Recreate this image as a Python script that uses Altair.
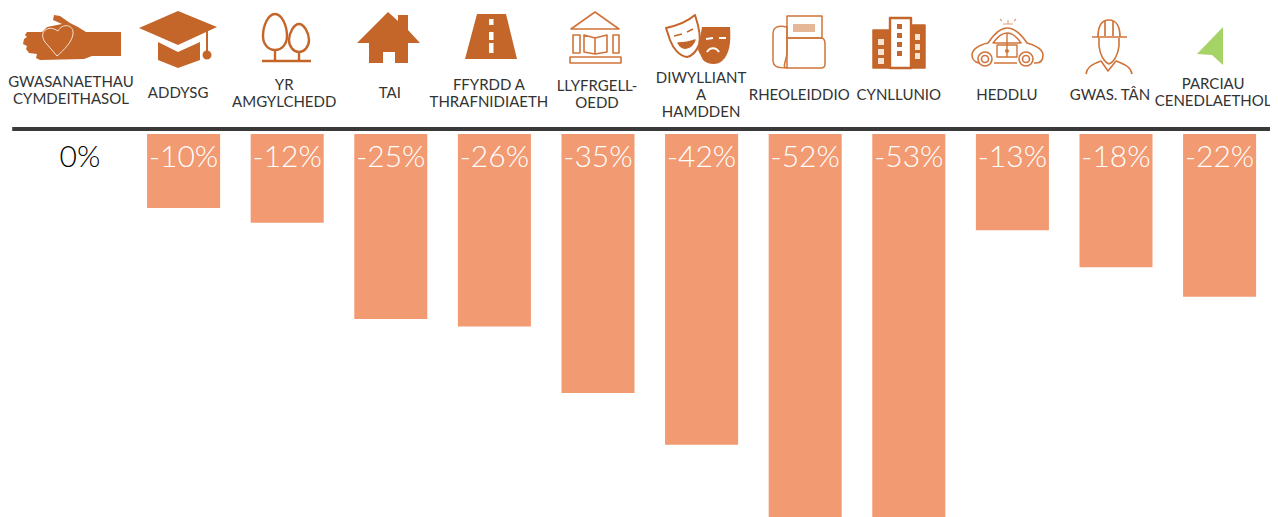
import re
import altair as alt
import pandas as pd

categories = ["social", "educ", "env", "housing", "roads", "lib", "culture", "reg", "plan", "police", "fire", "parks"]
labels = ["GWASANAETHAU\nCYMDEITHASOL", "ADDYSG", "YR\nAMGYLCHEDD", "TAI", "FFYRDD A\nTHRAFNIDIAETH",
          "LLYFRGELL-\nOEDD", "DIWYLLIANT\nA\nHAMDDEN", "RHEOLEIDDIO", "CYNLLUNIO", "HEDDLU", "GWAS. TÂN",
          "PARCIAU\nCENEDLAETHOL"]
values = [0, -10, -12, -25, -26, -35, -42, -52, -53, -13, -18, -22]

ORANGE = "#c4652a"
LINE = "#d0743a"
BAR = "#f29a72"
GREEN = "#a5d365"
FONT = "Lato"

df = pd.DataFrame({
    "cat": categories,
    "label": [s.split("\n") for s in labels],
    "v": values,
    "txt": [f"{v}%" for v in values],
})

STEP = 103.6
FIRST = 80.0
x_scale = alt.Scale(domain=categories, range=[0, 12 * STEP], paddingInner=0.295, paddingOuter=0.1475, round=False)
y_scale = alt.Scale(domain=[-51.76, 17.03], nice=False, zero=False)
x = alt.X("cat:N", scale=x_scale, axis=None, sort=categories)


def rel(path, cat):
    """Icon outlines are sketched around the column centre."""
    c = FIRST + categories.index(cat) * STEP
    return re.sub(r"(-?\d+\.?\d*),(-?\d+\.?\d*)",
                  lambda m: f"{float(m.group(1)) - c:.2f},{m.group(2)}", path)


def circ(cx, cy, r):
    return f"M{cx - r},{cy}A{r} {r} 0 1 0 {cx + r},{cy}A{r} {r} 0 1 0 {cx - r},{cy}Z"


def rect(x0, y0, x1, y1):
    return f"M{x0},{y0}L{x1},{y0}L{x1},{y1}L{x0},{y1}Z"


# (column, outline, fill, stroke, stroke width)
icons = [
    ("social", "M121,32L121,56L92,56L84,59L40,60L36,58L37,54L29,53L26,49L27,46L23,44L24,39L27,37L25,35L27,32L42,32L47,27L62,24L53,20L54,15L60,16L70,23L78,27L86,32Z", ORANGE, None, 0),
    ("social", "M57,56L45,42C38,32 48,24 58,31C62,23 74,24 73,34C72,42 64,50 57,56Z", ORANGE, "#f4e2d4", 1),
    ("educ", "M178,11L217,27L178,45L139,28Z", ORANGE, None, 0),
    ("educ", "M158,42L178,52L200,42L200,60L178,68L158,60Z", ORANGE, None, 0),
    ("educ", "M207,29L207,52", None, ORANGE, 2),
    ("educ", circ(207, 55, 4.5), ORANGE, None, 0),
    ("env", "M275,14C268,14 263,26 263,36C263,44 268,50 275,50C282,50 287,44 287,36C287,26 282,14 275,14ZM275,50L275,60", None, ORANGE, 2.4),
    ("env", "M299,24C294,24 289,33 289,40C289,47 294,52 299,52C304,52 309,47 309,40C309,33 304,24 299,24ZM299,52L299,60M262,61L311,61", None, ORANGE, 2.4),
    ("housing", "M388,12L398,21L398,15L408,15L408,30L420,43L408,43L408,63L395,63L395,52L383,52L383,63L369,63L369,43L357,43Z", ORANGE, None, 0),
    ("roads", "M477,14L506,14L517,59L465,59Z", ORANGE, None, 0),
    ("roads", rect(489, 19, 493.5, 25) + rect(489, 32, 493.5, 40) + rect(489, 43, 493.5, 53), "#ffffff", None, 0),
    ("lib", "M571,29L595,12L619,29Z", None, LINE, 1.6),
    ("lib", rect(570, 57, 621, 63) + rect(573, 35, 580, 53) + rect(613, 35, 619, 53), None, LINE, 1.6),
    ("lib", "M584,35L595,38L607,35L607,52L595,54L584,52ZM595,38L595,54", None, LINE, 1.6),
    ("culture", "M702,27L730,27C731,42 730,54 722,61C718,65 708,65 703,60L698,50Z", ORANGE, None, 0),
    ("culture", "M706,39L713,38M719,38L726,38M707,52C710,47 716,47 719,52", None, "#ffffff", 2),
    ("culture", "M666,28C675,26 687,22 695,15C699,27 701,38 699,45C696,52 692,56 687,57C679,56 673,48 670,40Z", "#ffffff", ORANGE, 2),
    ("culture", "M674,36L682,34M687,32L693,29M678,43C683,52 692,48 695,40C690,42 684,43 678,43Z", ORANGE, ORANGE, 1.4),
    ("reg", rect(787, 16, 822, 38), None, LINE, 1.5),
    ("reg", rect(793, 24, 815, 32), "#e6b796", None, 0),
    ("reg", "M787,27C778,25 773,27 773,34L773,60C773,67 778,68 787,68C781,68 787,60 787,52Z", None, LINE, 1.5),
    ("reg", "M787,38L821,38C824,38 825,40 825,44L825,64C825,67 824,68 821,68L787,68Z", None, LINE, 1.5),
    ("plan", rect(873, 30, 890, 68) + rect(911, 25, 925, 68), ORANGE, ORANGE, 1.5),
    ("plan", rect(890, 18, 911, 68), "#ffffff", ORANGE, 2.4),
    ("plan", rect(878, 39, 884, 45) + rect(878, 49, 884, 55) + rect(878, 58, 884, 64) + rect(915, 34, 920, 40) + rect(915, 44, 920, 50) + rect(915, 53, 920, 59), "#f7e3d4", None, 0),
    ("plan", rect(897, 24, 902, 29) + rect(897, 33, 902, 38) + rect(897, 42, 902, 47) + rect(897, 51, 902, 56), ORANGE, None, 0),
    ("police", "M979,63C974,62 972,58 972,55C972,50 978,45 988,43C994,34 1000,28 1007,28C1015,28 1021,34 1027,43C1036,45 1043,50 1043,55C1043,60 1041,63 1036,63L1034,63M1017,63L994,63", None, LINE, 1.6),
    ("police", "M993,43C998,36 1002,33 1007,33C1012,33 1017,37 1021,43ZM1007,33L1007,57", None, LINE, 1.4),
    ("police", rect(997, 45, 1017, 57), None, LINE, 1.4),
    ("police", circ(985, 59, 7) + circ(985, 59, 3.5) + circ(1026, 59, 7) + circ(1026, 59, 3.5), "#ffffff", LINE, 1.6),
    ("police", "M1003,24L1013,24M1008,24L1008,20M1002,21L1000,19M1014,21L1016,19", None, "#e0a27a", 1.1),
    ("police", circ(1007, 51, 2), LINE, None, 0),
    ("fire", "M1092,37L1127,37M1098,37C1098,26 1102,20 1109,20C1116,20 1120,26 1120,37M1105,21L1105,36M1113,21L1113,36", None, LINE, 1.7),
    ("fire", "M1099,38L1099,46C1100,55 1104,62 1109,64C1114,62 1118,55 1119,46L1119,38", None, LINE, 1.6),
    ("fire", "M1086,74C1087,68 1090,65 1101,61L1108,71L1116,61C1127,65 1131,68 1132,74", None, LINE, 1.6),
    ("parks", "M1197,54L1223,27L1223,65L1212,55Z", GREEN, None, 0),
]


def icon_layer(cat, path, fill, stroke, sw):
    kw = {"fill": fill if fill else "transparent", "stroke": stroke if stroke else "transparent",
          "strokeWidth": sw, "filled": True, "opacity": 1, "size": 4,
          "shape": rel(path, cat), "strokeJoin": "round"}
    return alt.Chart(alt.Data(values=[{"cat": cat}])).mark_point(**kw).encode(x=x, y=alt.value(-8))


# Hand placement of each caption in the header: sideways nudge, first-line height on the page
caption_place = {"social": (-9, 82), "educ": (-5.5, 93), "env": (-3, 85), "housing": (-1, 93),
                 "roads": (-5.5, 85), "lib": (-1, 86), "culture": (-0.5, 78), "reg": (-6, 95),
                 "plan": (-10, 95), "police": (-5.5, 95), "fire": (-6, 95), "parks": (-6.5, 84)}


def caption(cat):
    dx, page_y = caption_place[cat]
    return alt.Chart(df[df["cat"] == cat]).mark_text(
        font=FONT, fontSize=15, lineHeight=17, color="#333333", baseline="middle", align="center", dx=dx
    ).encode(x=x, y=alt.value(page_y - 8), text="label:N")


bars = alt.Chart(df).mark_bar(color=BAR, clip=True).encode(
    x=x, y=alt.Y("v:Q", scale=y_scale, axis=None))

rule = alt.Chart(alt.Data(values=[{"a": 1}])).mark_rule(color="#3a3a3a", strokeWidth=4).encode(
    x=alt.value(-16), x2=alt.value(1250), y=alt.value(121))

pct = alt.Chart(df).mark_text(font=FONT, fontWeight=300, fontSize=30, baseline="middle", align="center").encode(
    x=x, y=alt.value(150), text="txt:N",
    color=alt.condition(alt.datum.v == 0, alt.value("#000000"), alt.value("#ffffff")))

chart = alt.layer(bars, rule, pct, *[caption(c) for c in categories], *[icon_layer(*i) for i in icons]).properties(
    width=1241.8, height=509,
    autosize=alt.AutoSizeParams(type="none"),
    padding={"left": 20.2, "top": 0, "right": 0, "bottom": 0},
    background="white",
).configure_view(stroke=None)

chart.save("out.html", embed_options={"renderer": "svg", "actions": False})
